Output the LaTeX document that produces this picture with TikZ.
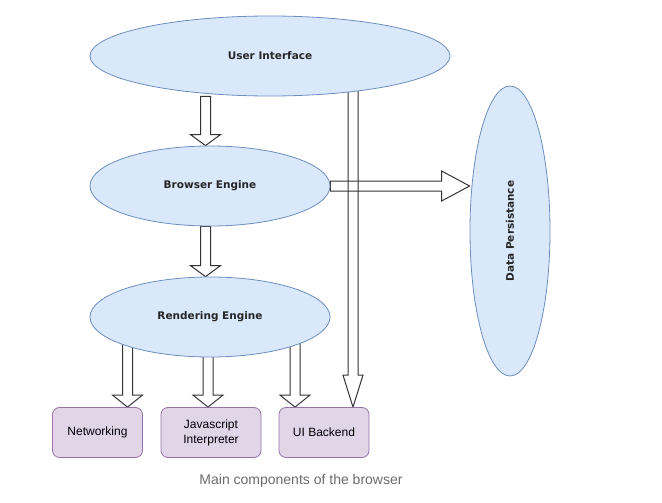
\documentclass[tikz,border=0pt]{standalone}
\usepackage{fontspec}
\setmainfont{Liberation Sans}
\newfontfamily\handfont{DejaVu Sans}
\usetikzlibrary{calc,shapes.geometric}
\pgfdeclarelayer{background}
\pgfsetlayers{background,main}
\definecolor{ellfill}{HTML}{DAE8FC}
\definecolor{elldraw}{HTML}{6C8EBF}
\definecolor{boxfill}{HTML}{E1D5E7}
\definecolor{boxdraw}{HTML}{9673A6}
\definecolor{arrowdraw}{HTML}{333333}
\definecolor{captiongray}{HTML}{6B6B6B}
\tikzset{
    component/.style={ellipse, draw=elldraw, fill=ellfill, line width=0.8pt, inner sep=0pt,
        font=\handfont\bfseries\fontsize{10.5}{12}\selectfont, text=black!85},
    module/.style={rectangle, rounded corners=7pt, draw=boxdraw, fill=boxfill, line width=0.8pt,
        minimum width=90pt, minimum height=50pt, inner sep=0pt, align=center,
        font=\fontsize{12}{15}\selectfont},
    blockarrow/.style={draw=arrowdraw, line width=1pt, line join=miter},
}
% block arrow: start, tip, head half width, head length
\newcommand{\blockarrow}[4]{%
    \coordinate (bah) at ($(#2)!#4!(#1)$);
    \draw[blockarrow] ($(#1)!5pt!90:(#2)$) -- ($(bah)!5pt!90:(#2)$)
        -- ($(bah)!#3!90:(#2)$) -- (#2) -- ($(bah)!#3!-90:(#2)$)
        -- ($(bah)!5pt!-90:(#2)$) -- ($(#1)!5pt!-90:(#2)$) -- cycle;
}
\begin{document}
\begin{tikzpicture}[x=1pt, y=-1pt]
    \useasboundingbox (0,0) rectangle (662,503);
    % columns of the arrows
    \coordinate (xa) at (205.5,0);
    \coordinate (xn) at (127.5,0);
    \coordinate (xj) at (208,0);
    \coordinate (xb) at (295,0);
    \coordinate (xu) at (353,0);

    \node[component, minimum width=360pt, minimum height=80pt] (ui) at (270,56) {User Interface};
    \node[component, minimum width=240pt, minimum height=80pt] (be) at (210,186) {Browser Engine};
    \node[component, minimum width=240pt, minimum height=80pt] (re) at (210,317) {Rendering Engine};
    \node[component, minimum width=80pt, minimum height=290pt] (dp) at (510,231) {};
    \node[rotate=90, font=\handfont\bfseries\fontsize{10.5}{12}\selectfont, text=black!85] (dptext) at (dp.center) {Data Persistance};

    \node[module] (net) at (97.5,432.5) {Networking};
    \node[module, minimum width=100pt] (js) at (211,432.5) {Javascript\\Interpreter};
    \node[module] (uib) at (324,432.5) {UI Backend};

    \node[font=\fontsize{14}{16}\selectfont, text=captiongray] (caption) at (301,481) {Main components of the browser};

    \begin{pgfonlayer}{background}
        \blockarrow{ui.south -| xa}{be.north -| xa}{15pt}{11pt}
        \blockarrow{be.south -| xa}{re.north -| xa}{15pt}{11pt}
        \blockarrow{re.center -| xn}{net.north -| xn}{15pt}{12pt}
        \blockarrow{re.center -| xj}{js.north -| xj}{15pt}{12pt}
        \blockarrow{re.center -| xb}{uib.north -| xb}{15pt}{12pt}
        \blockarrow{ui.center -| xu}{uib.north -| xu}{10pt}{32pt}
        \blockarrow{be.east}{dp.west |- be.east}{15pt}{28pt}
    \end{pgfonlayer}
\end{tikzpicture}
\end{document}
